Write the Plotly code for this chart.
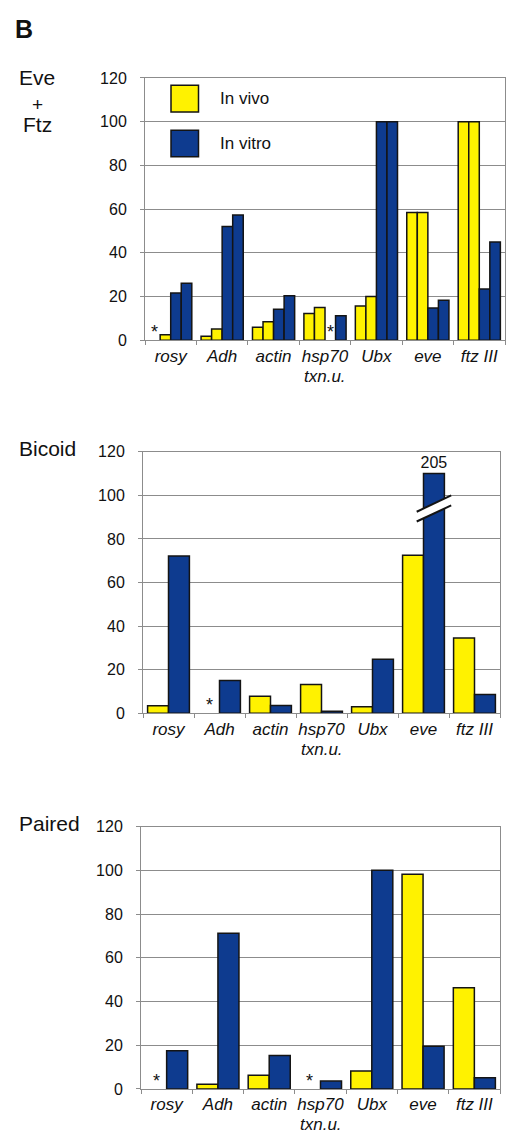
import plotly.graph_objects as go

W, H = 509, 1140

# ---------------- data ----------------
categories = ["rosy", "Adh", "actin", "hsp70", "Ubx", "eve", "ftz III"]
category_sublabels = ["", "", "", "txn.u.", "", "", ""]

# None = not detected (marked with *)
eveftz_vivo_1 = [None, 1.8, 6.0, 12.3, 15.7, 58.5, 100]
eveftz_vivo_2 = [2.5, 5.1, 8.5, 15.0, 20.0, 58.5, 100]
eveftz_vitro_1 = [21.6, 52.0, 14.2, None, 100, 14.8, 23.5]
eveftz_vitro_2 = [26.1, 57.3, 20.4, 11.2, 100, 18.3, 45.0]

bicoid_vivo = [3.5, None, 7.8, 13.2, 3.0, 72.5, 34.6]
bicoid_vitro = [72.2, 15.1, 3.6, 1.0, 24.8, 205, 8.6]

paired_vivo = [None, 2.2, 6.3, None, 8.2, 98.2, 46.3]
paired_vitro = [17.5, 71.2, 15.3, 3.6, 100, 19.5, 5.1]

panel_titles = ["Eve\n+\nFtz", "Bicoid", "Paired"]
series_names = ["In vivo", "In vitro"]
y_ticks = [0, 20, 40, 60, 80, 100, 120]

# ---------------- style ----------------
YELLOW = "#FFF200"
BLUE = "#0E3B8F"
EDGE = "#141414"
GRID = "#8C8C8C"
FONT = "Liberation Sans"
CAP = 110          # drawn height of off-scale bar
BARGAP = 0.18


def px(x):
    return x / W


def py(y):
    return 1 - y / H


# pixel boxes of the three plot areas: (left, right, top, bottom)
boxes = [(145, 505, 71, 337.3), (143, 500, 450.5, 716), (141, 500, 831, 1097.3)]

panels = [
    [(eveftz_vivo_1, YELLOW), (eveftz_vivo_2, YELLOW), (eveftz_vitro_1, BLUE), (eveftz_vitro_2, BLUE)],
    [(bicoid_vivo, YELLOW), (bicoid_vitro, BLUE)],
    [(paired_vivo, YELLOW), (paired_vitro, BLUE)],
]

fig = go.Figure()
annotations = []
shapes = []

for p, series in enumerate(panels):
    xa = "x" if p == 0 else f"x{p + 1}"
    ya = "y" if p == 0 else f"y{p + 1}"
    n = len(series)
    w = (1 - BARGAP) / n
    for k, (vals, col) in enumerate(series):
        shown = [None if v is None else min(v, CAP) for v in vals]
        texts = ["" if (v is None or v <= CAP) else f"{v:g}" for v in vals]
        fig.add_trace(go.Bar(
            x=categories, y=shown, xaxis=xa, yaxis=ya,
            marker=dict(color=col, line=dict(color=EDGE, width=1.5)),
            text=texts, textposition="outside", cliponaxis=False,
            constraintext="none",
            textfont=dict(family=FONT, size=16, color="#111"),
            showlegend=False, hoverinfo="x+y",
        ))
        off = -(1 - BARGAP) / 2 + (k + 0.5) * w
        for i, v in enumerate(vals):
            if v is None:
                annotations.append(dict(
                    x=i + off, y=0, xref=xa, yref=ya, text="*", showarrow=False,
                    font=dict(family=FONT, size=18, color="#111"),
                    xanchor="center", yanchor="bottom", yshift=-3, borderpad=0,
                ))
            elif v > CAP:
                # axis-break marks across the off-scale bar
                xl, xr = i + off - 1.65 * w / 2, i + off + 1.65 * w / 2
                shapes.append(dict(type="line", xref=xa, yref=ya, x0=xl, x1=xr,
                                   y0=90.2, y1=97.7, line=dict(color="white", width=9),
                                   layer="above"))
                for y0, y1 in [(88, 95.4), (92.5, 100)]:
                    shapes.append(dict(type="line", xref=xa, yref=ya, x0=xl, x1=xr,
                                       y0=y0, y1=y1, line=dict(color=EDGE, width=2),
                                       layer="above"))
    # second line of category labels
    for i, sub in enumerate(category_sublabels):
        if sub:
            annotations.append(dict(
                x=i, y=0, xref=xa, yref=f"{ya} domain", text=sub, showarrow=False,
                font=dict(family=FONT, size=17, color="#111", style="italic"),
                xanchor="center", yanchor="middle", yshift=-36, borderpad=0,
            ))

layout = dict(
    width=W, height=H, margin=dict(l=0, r=0, t=0, b=0),
    paper_bgcolor="white", plot_bgcolor="white",
    barmode="group", bargap=BARGAP, bargroupgap=0,
    font=dict(family=FONT, color="#111"),
)

for p, (l, r, t, b) in enumerate(boxes):
    sfx = "" if p == 0 else str(p + 1)
    layout[f"xaxis{sfx}"] = dict(
        domain=[px(l), px(r)], anchor=f"y{sfx}", type="category",
        categoryorder="array", categoryarray=categories,
        showline=True, linecolor=GRID, linewidth=1, mirror=True,
        ticks="outside", tickson="boundaries", ticklen=4, tickcolor=GRID,
        tickangle=0,
        tickfont=dict(family=FONT, size=17, color="#111", style="italic"),
        showgrid=False, fixedrange=True,
    )
    layout[f"yaxis{sfx}"] = dict(
        domain=[py(b), py(t)], anchor=f"x{sfx}", range=[0, 120],
        tickvals=y_ticks, showgrid=True, gridcolor=GRID, gridwidth=1,
        showline=True, linecolor=GRID, linewidth=1, mirror=True,
        ticks="outside", ticklen=4, tickcolor=GRID, zeroline=False,
        tickfont=dict(family=FONT, size=16, color="#111"),
        ticklabelstandoff=10, fixedrange=True,
    )

# panel letter and titles
annotations.append(dict(x=px(14), y=py(21.5), xref="paper", yref="paper", text="<b>B</b>",
                        showarrow=False, xanchor="left", yanchor="middle", borderpad=0,
                        font=dict(family=FONT, size=25, color="#111")))
title_lines = panel_titles[0].split("\n")
for line, yc, fs in zip(title_lines, [71, 98, 118], [21, 19, 21]):
    annotations.append(dict(x=px(37), y=py(yc), xref="paper", yref="paper", text=line,
                            showarrow=False, xanchor="center", yanchor="middle", borderpad=0,
                            font=dict(family=FONT, size=fs, color="#111")))
for title, yc in zip(panel_titles[1:], [447, 828]):
    annotations.append(dict(x=px(18), y=py(yc), xref="paper", yref="paper", text=title,
                            showarrow=False, xanchor="left", yanchor="middle", borderpad=0,
                            font=dict(family=FONT, size=21, color="#111")))

# custom legend (top panel)
legend_items = [(series_names[0], YELLOW, 78.5, 105.7), (series_names[1], BLUE, 124, 151)]
for name, col, t, b in legend_items:
    shapes.append(dict(type="rect", xref="paper", yref="paper",
                       x0=px(171), x1=px(198.5), y0=py(b), y1=py(t),
                       fillcolor=col, line=dict(color=EDGE, width=1.5), layer="above"))
    annotations.append(dict(x=px(219), y=py((t + b) / 2), xref="paper", yref="paper",
                            text=name, showarrow=False, xanchor="left", yanchor="middle",
                            borderpad=0, font=dict(family=FONT, size=17, color="#111")))

layout["annotations"] = annotations
layout["shapes"] = shapes
fig.update_layout(**layout)
fig.write_html("out.html")
